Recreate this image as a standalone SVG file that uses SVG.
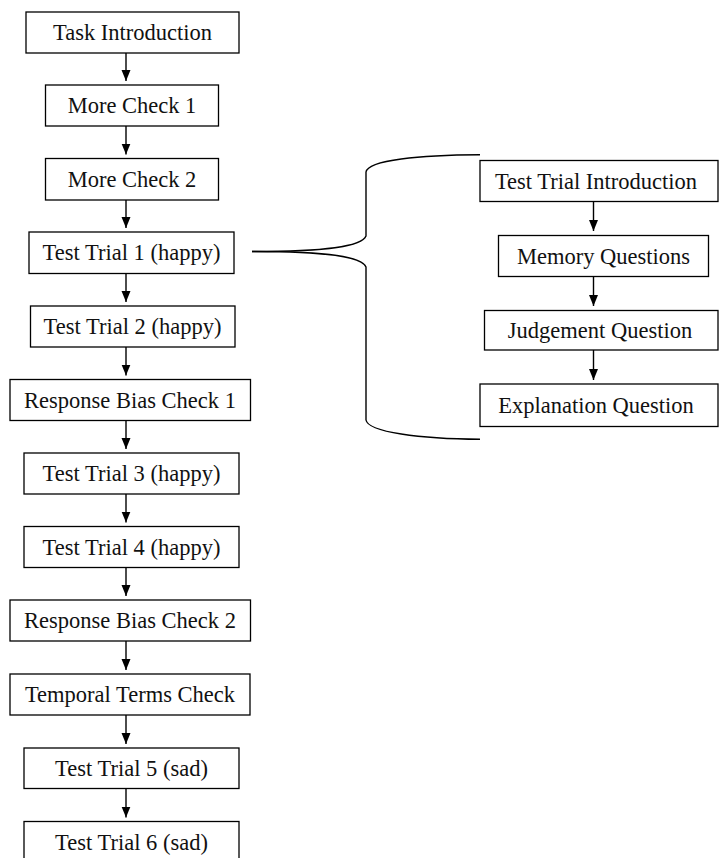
<svg xmlns="http://www.w3.org/2000/svg" width="720" height="858" viewBox="0 0 720 858">
<style>
.box{fill:#fff;stroke:#000;stroke-width:1.3}
.t{font-family:"Liberation Serif","Times New Roman",serif;font-size:22.5px;fill:#111;text-anchor:middle}
.c{stroke:#000;stroke-width:1.4;fill:none}
</style>
<defs>
<marker id="ah" markerUnits="userSpaceOnUse" markerWidth="11" markerHeight="10" refX="11" refY="5" orient="auto" viewBox="0 0 11 10">
<path d="M0,0.5 L11,5 L0,9.5 Z" fill="#000"/>
</marker>
</defs>
<rect width="720" height="858" fill="#fff"/>
<g id="connectors">
<line class="c" x1="126" y1="53" x2="126" y2="81" marker-end="url(#ah)"/>
<line class="c" x1="126" y1="126" x2="126" y2="154.5" marker-end="url(#ah)"/>
<line class="c" x1="126" y1="200" x2="126" y2="228" marker-end="url(#ah)"/>
<line class="c" x1="126" y1="273.5" x2="126" y2="302" marker-end="url(#ah)"/>
<line class="c" x1="126" y1="347" x2="126" y2="375.5" marker-end="url(#ah)"/>
<line class="c" x1="126" y1="420.5" x2="126" y2="449" marker-end="url(#ah)"/>
<line class="c" x1="126" y1="494" x2="126" y2="522.5" marker-end="url(#ah)"/>
<line class="c" x1="126" y1="567.5" x2="126" y2="596" marker-end="url(#ah)"/>
<line class="c" x1="126" y1="641" x2="126" y2="670" marker-end="url(#ah)"/>
<line class="c" x1="126" y1="715" x2="126" y2="744" marker-end="url(#ah)"/>
<line class="c" x1="126" y1="788.5" x2="126" y2="817.5" marker-end="url(#ah)"/>
<line class="c" x1="593.5" y1="201.5" x2="593.5" y2="231" marker-end="url(#ah)"/>
<line class="c" x1="593.5" y1="276.5" x2="593.5" y2="306" marker-end="url(#ah)"/>
<line class="c" x1="593.5" y1="350" x2="593.5" y2="380" marker-end="url(#ah)"/>
<path class="c" d="M252,251.5 C330,251.5 362,246 366,236 L366,172 C368,160 420,155 480,154.7"/>
<path class="c" d="M252,251.5 C330,251.5 362,257 366,267 L366,420 C368,432 420,439 480,439.3"/>
</g>
<g id="n1"><rect class="box" x="26" y="12" width="213" height="41"/><text class="t" x="132.5" y="40">Task Introduction</text></g>
<g id="n2"><rect class="box" x="45.5" y="85" width="173" height="41"/><text class="t" x="132" y="113">More Check 1</text></g>
<g id="n3"><rect class="box" x="45.5" y="158.5" width="173" height="41.5"/><text class="t" x="132" y="186.5">More Check 2</text></g>
<g id="n4"><rect class="box" x="29" y="232" width="205" height="41.5"/><text class="t" x="131.5" y="260">Test Trial 1 (happy)</text></g>
<g id="n5"><rect class="box" x="30.5" y="306" width="204.5" height="41"/><text class="t" x="132.5" y="334">Test Trial 2 (happy)</text></g>
<g id="n6"><rect class="box" x="10" y="379.5" width="240.5" height="41"/><text class="t" x="130" y="407.5">Response Bias Check 1</text></g>
<g id="n7"><rect class="box" x="24" y="453" width="215" height="41"/><text class="t" x="131.5" y="481">Test Trial 3 (happy)</text></g>
<g id="n8"><rect class="box" x="24" y="526.5" width="215" height="41"/><text class="t" x="131.5" y="554.5">Test Trial 4 (happy)</text></g>
<g id="n9"><rect class="box" x="10" y="600" width="240.5" height="41"/><text class="t" x="130" y="628">Response Bias Check 2</text></g>
<g id="n10"><rect class="box" x="10" y="674" width="240" height="41"/><text class="t" x="130" y="702">Temporal Terms Check</text></g>
<g id="n11"><rect class="box" x="24" y="748" width="215" height="40.5"/><text class="t" x="131.5" y="776">Test Trial 5 (sad)</text></g>
<g id="n12"><rect class="box" x="24" y="821.5" width="215" height="50"/><text class="t" x="131.5" y="849.5">Test Trial 6 (sad)</text></g>
<g id="r1"><rect class="box" x="480" y="160.5" width="238" height="41"/><text class="t" x="596" y="188.5">Test Trial Introduction</text></g>
<g id="r2"><rect class="box" x="498.5" y="235.5" width="210" height="41"/><text class="t" x="603.5" y="263.5">Memory Questions</text></g>
<g id="r3"><rect class="box" x="484.5" y="310.5" width="233.5" height="39.5"/><text class="t" x="600" y="338">Judgement Question</text></g>
<g id="r4"><rect class="box" x="480" y="384" width="238" height="42.5"/><text class="t" x="596" y="412.5">Explanation Question</text></g>
</svg>
